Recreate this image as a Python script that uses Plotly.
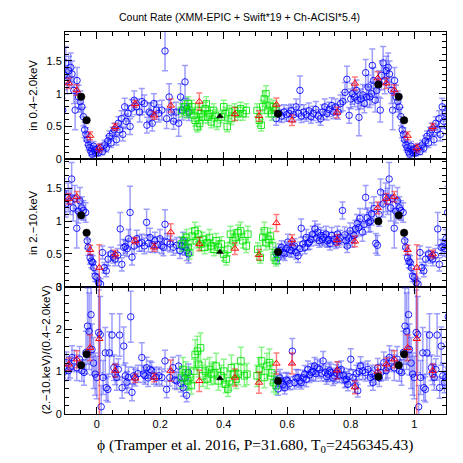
"""Phase-folded X-ray count rates, three stacked panels."""

import numpy as np
import plotly.graph_objects as go
from plotly.subplots import make_subplots

# ---- XMM-EPIC (blue), phase in [0, 1) ----
xmm_soft_phase = [0.000, 0.005, 0.012, 0.018, 0.025, 0.030, 0.035, 0.040, 0.045, 0.050, 0.055, 0.062,
                  0.068, 0.072, 0.078, 0.082, 0.088, 0.092, 0.098, 0.105, 0.110, 0.118, 0.125, 0.135,
                  0.142, 0.150, 0.158, 0.165, 0.170, 0.175, 0.180, 0.188, 0.195, 0.205, 0.215, 0.220,
                  0.228, 0.235, 0.242, 0.250, 0.258, 0.264, 0.270, 0.278, 0.284, 0.290,
                  0.565, 0.575, 0.582, 0.590, 0.598, 0.605, 0.612, 0.620, 0.628, 0.635, 0.640, 0.645,
                  0.652, 0.660, 0.668, 0.675, 0.682, 0.690, 0.698, 0.705, 0.712, 0.718, 0.725, 0.732,
                  0.740, 0.745, 0.752, 0.760, 0.768, 0.775, 0.782, 0.788, 0.795, 0.800, 0.805, 0.812,
                  0.818, 0.822, 0.826, 0.832, 0.838, 0.843, 0.847, 0.850, 0.855, 0.860, 0.865, 0.868,
                  0.872, 0.877, 0.882, 0.888, 0.893, 0.897, 0.902, 0.907, 0.912, 0.918, 0.922, 0.928,
                  0.932, 0.938, 0.943, 0.948, 0.953, 0.958, 0.962, 0.966, 0.970, 0.974, 0.978, 0.982,
                  0.986, 0.990, 0.994, 0.997]
xmm_soft = [0.15, 0.10, 0.18, 0.12, 0.22, 0.17, 0.28, 0.35, 0.25, 0.40, 0.45, 0.30,
            0.55, 0.45, 0.62, 0.38, 0.80, 0.58, 0.70, 0.50, 0.78, 0.90, 0.80, 0.72,
            0.88, 0.85, 0.52, 0.72, 0.70, 0.55, 0.85, 0.75, 0.70, 0.75, 1.65, 0.62,
            0.95, 0.72, 0.58, 0.72, 0.55, 0.95, 0.75, 1.18, 0.78, 0.72,
            0.62, 0.70, 0.66, 0.72, 0.68, 0.70, 0.74, 0.68, 0.80, 0.70, 1.05, 0.66,
            0.72, 0.68, 0.74, 0.65, 0.70, 0.76, 0.66, 0.62, 0.72, 0.80, 0.70, 0.76,
            0.82, 0.72, 0.80, 0.72, 0.85, 0.88, 1.02, 1.22, 0.67, 0.92, 1.00, 0.95,
            1.05, 0.90, 0.64, 0.92, 0.98, 0.85, 1.32, 0.95, 1.10, 0.95, 1.00, 1.43,
            1.20, 0.90, 1.05, 1.15, 0.75, 1.28, 1.47, 1.20, 1.35, 1.40, 1.30, 1.05,
            0.75, 1.20, 0.95, 0.88, 0.80, 0.65, 0.45, 0.38, 0.30, 0.22, 0.18, 0.12,
            0.08, 0.20, 0.14, 0.10]
xmm_soft_err = [0.06, 0.05, 0.06, 0.05, 0.07, 0.06, 0.08, 0.08, 0.07, 0.09, 0.10, 0.08,
                0.10, 0.09, 0.12, 0.10, 0.13, 0.11, 0.12, 0.12, 0.13, 0.14, 0.12, 0.15,
                0.20, 0.13, 0.12, 0.14, 0.16, 0.12, 0.15, 0.14, 0.13, 0.15, 0.30, 0.15,
                0.20, 0.14, 0.12, 0.15, 0.20, 0.20, 0.15, 0.25, 0.14, 0.13,
                0.10, 0.12, 0.10, 0.11, 0.10, 0.12, 0.10, 0.11, 0.12, 0.10, 0.22, 0.10,
                0.11, 0.10, 0.12, 0.10, 0.11, 0.12, 0.10, 0.10, 0.11, 0.12, 0.10, 0.11,
                0.12, 0.10, 0.12, 0.11, 0.13, 0.14, 0.15, 0.20, 0.12, 0.15, 0.16, 0.15,
                0.16, 0.14, 0.28, 0.15, 0.16, 0.14, 0.20, 0.15, 0.18, 0.16, 0.17, 0.25,
                0.20, 0.18, 0.18, 0.20, 0.18, 0.22, 0.25, 0.20, 0.22, 0.22, 0.20, 0.20,
                0.30, 0.20, 0.18, 0.16, 0.15, 0.14, 0.12, 0.10, 0.09, 0.08, 0.07, 0.06,
                0.06, 0.07, 0.06, 0.05]

xmm_hard_phase = [0.000, 0.006, 0.012, 0.018, 0.024, 0.030, 0.036, 0.045, 0.052, 0.058, 0.066, 0.074,
                  0.079, 0.085, 0.090, 0.096, 0.100, 0.105, 0.111, 0.118, 0.126, 0.134, 0.142, 0.150,
                  0.157, 0.163, 0.168, 0.176, 0.183, 0.191, 0.199, 0.205, 0.210, 0.215, 0.222, 0.231,
                  0.241, 0.252, 0.262, 0.268, 0.272, 0.278, 0.283, 0.289,
                  0.565, 0.571, 0.577, 0.582, 0.588, 0.592, 0.597, 0.602, 0.608, 0.613, 0.618, 0.623,
                  0.628, 0.634, 0.640, 0.644, 0.649, 0.655, 0.660, 0.665, 0.670, 0.675, 0.680, 0.687,
                  0.692, 0.696, 0.701, 0.706, 0.711, 0.715, 0.722, 0.726, 0.730, 0.735, 0.740, 0.748,
                  0.753, 0.758, 0.763, 0.767, 0.774, 0.781, 0.785, 0.789, 0.794, 0.798, 0.805, 0.810,
                  0.815, 0.820, 0.825, 0.829, 0.837, 0.842, 0.847, 0.852, 0.857, 0.862, 0.866, 0.873,
                  0.879, 0.884, 0.889, 0.894, 0.902, 0.910, 0.916, 0.921, 0.926, 0.931, 0.937, 0.942,
                  0.947, 0.953, 0.958, 0.965, 0.970, 0.973, 0.979, 0.983, 0.987, 0.991, 0.995]
xmm_hard = [0.14, 0.06, 0.04, 0.52, 0.29, 0.24, 0.42, 0.50, 0.45, 0.42, 0.48, 0.88,
            0.34, 0.60, 0.61, 0.58, 0.73, 1.13, 0.45, 0.62, 0.73, 0.66, 0.67, 0.62,
            0.98, 0.66, 0.75, 0.64, 0.70, 0.64, 0.73, 0.62, 0.60, 0.95, 0.68, 0.65,
            0.60, 0.63, 0.55, 0.62, 0.70, 0.60, 0.55, 0.50,
            0.50, 0.44, 0.55, 0.60, 0.52, 0.50, 0.58, 0.68, 0.56, 0.55, 0.60, 0.62,
            0.52, 0.47, 0.58, 0.89, 0.65, 0.60, 0.75, 0.66, 0.68, 0.72, 0.80, 0.88,
            0.74, 0.83, 0.70, 0.78, 0.72, 0.75, 0.80, 0.70, 0.72, 0.66, 0.78, 0.72,
            0.68, 0.80, 0.70, 0.75, 1.16, 0.79, 0.70, 0.62, 0.74, 0.85, 0.72, 0.78,
            0.88, 0.96, 0.90, 1.04, 0.83, 0.95, 1.36, 1.05, 0.98, 1.00, 1.11, 1.19,
            0.66, 0.63, 1.10, 1.44, 1.26, 1.36, 1.30, 1.64, 1.20, 1.34, 0.89, 1.15,
            1.31, 1.20, 1.16, 1.13, 0.70, 0.60, 0.44, 0.39, 0.37, 0.29, 0.16]
xmm_hard_err = [0.06, 0.08, 0.08, 0.10, 0.08, 0.09, 0.10, 0.10, 0.09, 0.10, 0.10, 0.25,
                0.10, 0.12, 0.10, 0.12, 0.14, 0.40, 0.12, 0.12, 0.13, 0.12, 0.13, 0.12,
                0.20, 0.13, 0.14, 0.12, 0.13, 0.12, 0.14, 0.12, 0.13, 0.22, 0.13, 0.12,
                0.12, 0.12, 0.12, 0.13, 0.13, 0.12, 0.15, 0.14,
                0.10, 0.09, 0.10, 0.10, 0.10, 0.10, 0.10, 0.12, 0.10, 0.10, 0.10, 0.11,
                0.10, 0.10, 0.10, 0.14, 0.11, 0.10, 0.12, 0.10, 0.11, 0.10, 0.12, 0.12,
                0.11, 0.12, 0.10, 0.12, 0.10, 0.11, 0.12, 0.10, 0.11, 0.10, 0.12, 0.11,
                0.10, 0.12, 0.10, 0.11, 0.13, 0.12, 0.10, 0.10, 0.11, 0.12, 0.12, 0.12,
                0.13, 0.14, 0.13, 0.15, 0.14, 0.15, 0.18, 0.15, 0.15, 0.16, 0.17, 0.18,
                0.15, 0.15, 0.18, 0.20, 0.20, 0.22, 0.20, 0.25, 0.20, 0.20, 0.30, 0.18,
                0.20, 0.17, 0.15, 0.15, 0.12, 0.12, 0.10, 0.10, 0.10, 0.09, 0.08]

xmm_ratio_phase = [0.000, 0.006, 0.011, 0.014, 0.020, 0.027, 0.030, 0.035, 0.040, 0.048, 0.054, 0.058,
                   0.063, 0.068, 0.072, 0.080, 0.085, 0.090, 0.095, 0.100, 0.107, 0.111, 0.116, 0.121,
                   0.130, 0.142, 0.147, 0.152, 0.157, 0.162, 0.168, 0.173, 0.180, 0.188, 0.196, 0.205,
                   0.215, 0.220, 0.230, 0.240, 0.246, 0.252, 0.258, 0.265, 0.272, 0.278, 0.283, 0.289,
                   0.565, 0.571, 0.577, 0.582, 0.587, 0.592, 0.597, 0.602, 0.608, 0.616, 0.623, 0.628,
                   0.634, 0.639, 0.644, 0.650, 0.655, 0.660, 0.665, 0.670, 0.676, 0.681, 0.686, 0.690,
                   0.695, 0.702, 0.708, 0.713, 0.720, 0.724, 0.728, 0.733, 0.738, 0.744, 0.749, 0.755,
                   0.760, 0.765, 0.770, 0.778, 0.782, 0.786, 0.791, 0.795, 0.800, 0.807, 0.814, 0.818,
                   0.822, 0.826, 0.831, 0.838, 0.846, 0.854, 0.862, 0.866, 0.870, 0.877, 0.885, 0.890,
                   0.895, 0.904, 0.911, 0.916, 0.922, 0.929, 0.937, 0.946, 0.953, 0.960, 0.966, 0.971,
                   0.976, 0.982, 0.985, 0.990, 0.995]
xmm_ratio = [0.86, 1.92, 1.87, 0.17, 0.86, 1.44, 0.62, 0.58, 1.44, 1.86, 1.09, 0.94,
             0.86, 1.05, 1.86, 0.62, 1.60, 0.90, 0.75, 0.86, 2.29, 0.51, 0.90, 0.86,
             0.95, 1.33, 0.94, 0.90, 1.09, 0.85, 1.05, 1.02, 0.90, 0.86, 0.90, 0.86,
             1.25, 0.58, 0.86, 1.09, 0.80, 0.78, 1.13, 0.72, 0.62, 0.85, 0.44, 0.98,
             0.80, 0.59, 0.85, 0.78, 0.70, 0.62, 0.80, 0.78, 0.72, 1.48, 0.74, 0.85,
             0.86, 0.78, 0.74, 0.85, 0.94, 0.82, 1.05, 0.92, 0.98, 1.00, 1.13, 0.95,
             1.09, 1.05, 0.96, 1.25, 0.98, 0.88, 0.94, 1.02, 0.98, 0.85, 0.90, 0.96,
             1.02, 0.92, 1.05, 0.90, 0.80, 0.82, 0.70, 0.88, 1.29, 0.86, 0.66, 0.95,
             0.55, 1.00, 1.13, 1.02, 0.98, 1.05, 0.86, 0.95, 0.74, 0.90, 1.09, 0.85,
             0.98, 1.21, 1.02, 1.10, 1.33, 1.25, 1.09, 1.29, 1.02, 0.98, 1.45, 2.07,
             1.95, 2.34, 1.52, 1.20, 0.94]
xmm_ratio_err = [0.50, 1.00, 0.90, 0.50, 0.40, 0.60, 0.30, 0.30, 0.50, 0.50, 0.30, 0.25,
                 0.30, 0.25, 0.50, 0.25, 0.45, 0.30, 0.25, 0.25, 0.60, 0.20, 0.20, 0.20,
                 0.20, 0.35, 0.20, 0.20, 0.25, 0.20, 0.20, 0.20, 0.20, 0.20, 0.20, 0.20,
                 0.25, 0.20, 0.20, 0.25, 0.20, 0.20, 0.25, 0.20, 0.20, 0.20, 0.15, 0.20,
                 0.20, 0.15, 0.20, 0.18, 0.15, 0.15, 0.18, 0.18, 0.15, 0.30, 0.15, 0.20,
                 0.18, 0.15, 0.15, 0.18, 0.20, 0.18, 0.20, 0.18, 0.20, 0.20, 0.20, 0.18,
                 0.20, 0.20, 0.18, 0.22, 0.20, 0.18, 0.18, 0.20, 0.20, 0.18, 0.18, 0.20,
                 0.20, 0.18, 0.20, 0.18, 0.18, 0.18, 0.15, 0.18, 0.25, 0.18, 0.15, 0.20,
                 0.15, 0.20, 0.22, 0.20, 0.20, 0.20, 0.20, 0.20, 0.18, 0.20, 0.22, 0.20,
                 0.20, 0.25, 0.22, 0.25, 0.28, 0.25, 0.30, 0.30, 0.25, 0.30, 0.50, 0.90,
                 0.90, 1.00, 0.60, 0.60, 0.50]

# ---- Chandra ACIS (green) ----
acis_soft_phase = [0.267, 0.276, 0.283, 0.288, 0.293, 0.300, 0.306, 0.310, 0.317, 0.319, 0.324, 0.329,
                   0.334, 0.342, 0.345, 0.350, 0.355, 0.361, 0.368, 0.373, 0.379, 0.392, 0.400, 0.405,
                   0.411, 0.418, 0.424, 0.434, 0.445, 0.453, 0.460, 0.471,
                   0.505, 0.512, 0.518, 0.523, 0.528, 0.533, 0.539, 0.544, 0.551, 0.557, 0.564]
acis_soft = [0.745, 0.80, 0.72, 0.845, 0.745, 0.80, 0.67, 0.595, 0.495, 0.745, 0.545, 0.695,
             0.645, 0.77, 0.845, 0.645, 0.695, 0.57, 0.745, 0.67, 0.545, 0.645, 0.80, 0.695,
             0.50, 0.72, 0.62, 0.745, 0.695, 0.77, 0.695, 0.745,
             0.745, 0.595, 0.52, 0.80, 0.92, 1.00, 0.745, 0.82, 0.695, 0.80, 0.745]
acis_soft_err = [0.10, 0.10, 0.09, 0.11, 0.10, 0.10, 0.09, 0.09, 0.08, 0.10, 0.09, 0.10,
                 0.09, 0.10, 0.11, 0.09, 0.10, 0.09, 0.10, 0.09, 0.09, 0.09, 0.10, 0.10,
                 0.08, 0.10, 0.09, 0.10, 0.10, 0.10, 0.10, 0.10,
                 0.10, 0.09, 0.09, 0.10, 0.11, 0.12, 0.10, 0.10, 0.10, 0.10, 0.10]

acis_hard_phase = [0.267, 0.276, 0.283, 0.288, 0.293, 0.300, 0.309, 0.314, 0.319, 0.327, 0.334, 0.340,
                   0.348, 0.355, 0.361, 0.369, 0.376, 0.383, 0.392, 0.400, 0.408, 0.413, 0.421, 0.429,
                   0.436, 0.445, 0.453, 0.460, 0.471, 0.476,
                   0.507, 0.515, 0.523, 0.528, 0.533, 0.541, 0.547, 0.554, 0.559, 0.565]
acis_hard = [0.65, 0.70, 0.75, 0.60, 0.52, 0.77, 0.85, 0.70, 0.80, 0.65, 0.72, 0.60,
             0.67, 0.75, 0.62, 0.57, 0.70, 0.60, 0.65, 0.495, 0.42, 0.57, 0.80, 0.70,
             0.75, 0.82, 0.85, 0.70, 0.62, 0.80,
             0.57, 0.445, 0.75, 0.85, 0.67, 0.72, 0.77, 0.62, 0.445, 0.395]
acis_hard_err = [0.11, 0.11, 0.12, 0.10, 0.10, 0.12, 0.13, 0.11, 0.12, 0.11, 0.11, 0.10,
                 0.11, 0.12, 0.10, 0.10, 0.11, 0.10, 0.11, 0.10, 0.09, 0.10, 0.12, 0.11,
                 0.12, 0.12, 0.13, 0.11, 0.10, 0.12,
                 0.10, 0.09, 0.12, 0.13, 0.11, 0.11, 0.12, 0.10, 0.09, 0.08]

acis_ratio_phase = [0.267, 0.272, 0.280, 0.286, 0.293, 0.298, 0.306, 0.310, 0.317, 0.321, 0.327, 0.334,
                    0.342, 0.348, 0.355, 0.361, 0.369, 0.376, 0.383, 0.392, 0.400, 0.406, 0.413, 0.418,
                    0.424, 0.432, 0.439, 0.446, 0.454, 0.465, 0.473,
                    0.505, 0.512, 0.519, 0.528, 0.536, 0.544, 0.551, 0.557, 0.565]
acis_ratio = [0.86, 1.05, 0.97, 0.78, 0.86, 0.67, 1.01, 1.40, 1.48, 1.17, 1.56, 0.90,
              1.01, 0.82, 1.05, 0.94, 0.97, 1.13, 0.78, 0.90, 1.01, 0.70, 0.59, 0.78,
              1.09, 0.94, 0.82, 0.94, 1.25, 0.90, 0.94,
              0.90, 1.05, 1.25, 0.86, 1.13, 1.21, 0.97, 0.74, 0.67]
acis_ratio_err = [0.25, 0.28, 0.26, 0.22, 0.25, 0.20, 0.28, 0.35, 0.35, 0.30, 0.35, 0.25,
                  0.28, 0.22, 0.28, 0.25, 0.26, 0.30, 0.22, 0.25, 0.28, 0.20, 0.18, 0.22,
                  0.30, 0.25, 0.22, 0.25, 0.32, 0.25, 0.25,
                  0.25, 0.28, 0.32, 0.24, 0.30, 0.32, 0.26, 0.22, 0.20]

# ---- Swift (red) ----
swift_phase = [0.008, 0.058, 0.121, 0.181, 0.233, 0.323, 0.435, 0.511,
               0.566, 0.615, 0.757, 0.813, 0.885, 0.912, 0.937, 0.979]
swift_soft = [0.17, 0.495, 0.845, 0.67, 0.82, 0.88, 0.69, 0.66,
              0.835, 0.595, 0.715, 1.155, 1.235, 1.16, 1.055, 0.36]
swift_soft_err = [0.06, 0.05, 0.05, 0.06, 0.10, 0.13, 0.10, 0.08,
                  0.10, 0.08, 0.08, 0.10, 0.10, 0.08, 0.08, 0.06]
swift_hard = [0.29, 0.495, 0.70, 0.60, 0.83, 0.65, 0.58, 0.485,
              0.97, 0.71, 0.71, 0.69, 1.20, 1.34, 1.37, 0.56]
swift_hard_err = [0.35, 0.06, 0.05, 0.06, 0.13, 0.10, 0.09, 0.08,
                  0.13, 0.08, 0.08, 0.08, 0.09, 0.08, 0.08, 0.07]
swift_ratio = [1.77, 1.02, 0.84, 0.86, 1.02, 0.78, 0.86, 0.74,
               1.19, 1.19, 1.03, 0.63, 1.00, 1.17, 1.29, 1.56]
swift_ratio_err = [1.80, 0.15, 0.10, 0.10, 0.25, 0.25, 0.20, 0.25,
                   0.25, 0.25, 0.20, 0.15, 0.15, 0.15, 0.20, 0.30]

# ---- reference points (black): one triangle, four dots ----
ref_tri_phase = [0.388]
ref_tri = [0.655, 0.53, 0.84]          # soft, hard, ratio
ref_dot_phase = [0.571, 0.887, 0.951, 0.968]
ref_dot_soft = [0.694, 1.14, 0.955, 0.595]
ref_dot_hard = [0.53, 0.995, 1.087, 0.82]
ref_dot_ratio = [0.78, 0.88, 1.15, 1.41]

BLUE = "rgba(0,0,255,0.85)"
BLUE_ERR = "rgba(40,40,255,0.45)"
GREEN = "rgba(0,225,0,0.85)"
GREEN_ERR = "rgba(0,235,0,0.45)"
RED = "rgba(255,0,0,0.95)"
RED_ERR = "rgba(255,0,0,0.5)"


def fold(phase, *cols):
    """Repeat phase-folded data one cycle either side."""
    p = np.asarray(phase)
    out = [np.concatenate([p - 1, p, p + 1])]
    for c in cols:
        out.append(np.tile(np.asarray(c), 3))
    return out


def add_series(fig, row, phase, vals, errs, symbol, color, ecolor, size=6.5):
    x, y, e = fold(phase, vals, errs)
    fig.add_trace(go.Scatter(
        x=x, y=y, mode="markers",
        marker=dict(symbol=symbol, size=size, color=color, line=dict(width=1)),
        error_y=dict(type="data", array=e, color=ecolor, thickness=1.5, width=3),
        showlegend=False,
    ), row=row, col=1)


def add_black(fig, row, phase, vals, symbol, size):
    x, y = fold(phase, vals)
    fig.add_trace(go.Scatter(
        x=x, y=y, mode="markers",
        marker=dict(symbol=symbol, size=size, color="black",
                    line=dict(width=0.5, color="black")),
        showlegend=False,
    ), row=row, col=1)


fig = make_subplots(rows=3, cols=1, shared_xaxes=True, vertical_spacing=0)

panels = [
    (xmm_soft_phase, xmm_soft, xmm_soft_err, acis_soft_phase, acis_soft, acis_soft_err,
     swift_soft, swift_soft_err, ref_dot_soft),
    (xmm_hard_phase, xmm_hard, xmm_hard_err, acis_hard_phase, acis_hard, acis_hard_err,
     swift_hard, swift_hard_err, ref_dot_hard),
    (xmm_ratio_phase, xmm_ratio, xmm_ratio_err, acis_ratio_phase, acis_ratio, acis_ratio_err,
     swift_ratio, swift_ratio_err, ref_dot_ratio),
]

for i, (bp, bv, be, gp, gv, ge, rv, re_, kv) in enumerate(panels, start=1):
    add_series(fig, i, bp, bv, be, "circle-open", BLUE, BLUE_ERR)
    add_series(fig, i, gp, gv, ge, "square-open", GREEN, GREEN_ERR)
    add_series(fig, i, swift_phase, rv, re_, "triangle-up-open", RED, RED_ERR)
    add_black(fig, i, ref_tri_phase, [ref_tri[i - 1]], "triangle-up", 6)
    add_black(fig, i, ref_dot_phase, kv, "circle", 7.5)

tickfont = dict(family="Liberation Sans, Arial, sans-serif", size=11, color="black")
common = dict(ticks="inside", showline=True, linecolor="black", linewidth=1,
              mirror="ticks", showgrid=False, zeroline=False, tickfont=tickfont,
              tickcolor="black", ticklen=7)

for i in range(1, 4):
    fig.update_xaxes(range=[-0.1, 1.1], dtick=0.2, tick0=0,
                     minor=dict(dtick=0.05, ticks="inside", ticklen=4, tickcolor="black"),
                     showticklabels=(i == 3), row=i, col=1, **common)

fig.update_yaxes(range=[0, 1.94], dtick=0.5, tick0=0,
                 minor=dict(dtick=0.1, ticks="inside", ticklen=4, tickcolor="black"),
                 row=1, col=1, **common)
fig.update_yaxes(range=[0, 1.94], dtick=0.5, tick0=0,
                 minor=dict(dtick=0.1, ticks="inside", ticklen=4, tickcolor="black"),
                 row=2, col=1, **common)
fig.update_yaxes(range=[0, 3], dtick=1, tick0=0,
                 minor=dict(dtick=0.2, ticks="inside", ticklen=4, tickcolor="black"),
                 row=3, col=1, **common)

label_font = dict(family="Liberation Sans, Arial, sans-serif", size=11.5, color="black")
ylabels = [("in 0.4\u22122.0keV", 5 / 6, -32),
           ("in 2.\u221210.keV", 0.5, -32),
           ("(2.\u221210.keV)/(0.4\u22122.0keV)", 1 / 6, -19)]
annotations = []
for text, yc, shift in ylabels:
    annotations.append(dict(text=text, x=0, y=yc, xref="paper", yref="paper",
                            xanchor="center", yanchor="middle", xshift=shift,
                            textangle=-90, showarrow=False, font=label_font))
annotations.append(dict(
    text="\u03d5 (Tramper et al. 2016, P=31.680, T<sub>0</sub>=2456345.43)",
    x=0.5, y=0, xref="paper", yref="paper", xanchor="center", yanchor="middle",
    yshift=-31, showarrow=False,
    font=dict(family="Liberation Serif, Times New Roman, serif", size=15.5, color="black")))

fig.update_layout(
    width=463, height=463,
    margin=dict(l=57, r=25, t=24, b=57),
    paper_bgcolor="white", plot_bgcolor="white",
    title=dict(text="Count Rate (XMM-EPIC + Swift*19 + Ch-ACISI*5.4)",
               x=0.5, xref="container", y=1 - 9 / 463, yref="container",
               xanchor="center", yanchor="middle",
               font=dict(family="Liberation Sans, Arial, sans-serif", size=10.5, color="black")),
    annotations=annotations,
    showlegend=False,
)

fig.write_html("out.html")
